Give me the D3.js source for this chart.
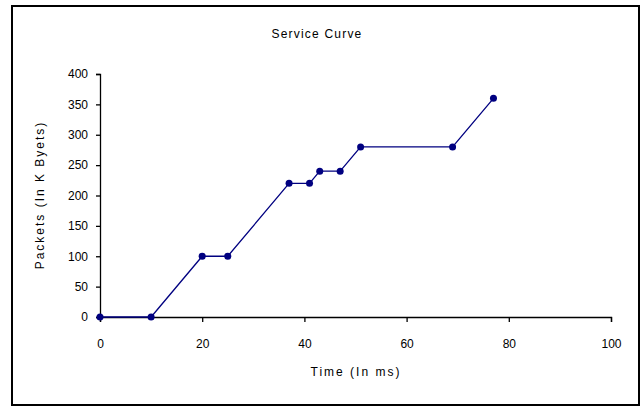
<!DOCTYPE html>
<html>
<head>
<meta charset="utf-8">
<script src="https://cdn.jsdelivr.net/npm/d3@7"></script>
<style>
  html, body { margin: 0; padding: 0; background: #fff; }
  svg { display: block; }
  text { font-family: "Liberation Sans", Arial, sans-serif; fill: #000; }
</style>
</head>
<body>
<svg id="chart" width="641" height="408"></svg>
<script>
const title = "Service Curve";
const xLabel = "Time (In ms)";
const yLabel = "Packets (In K Byets)";
const timeValues = [0, 10, 20, 25, 37, 41, 43, 47, 51, 69, 77];
const packetValues = [0, 0, 100, 100, 220, 220, 240, 240, 280, 280, 360];
const xTicks = [0, 20, 40, 60, 80, 100];
const yTicks = [0, 50, 100, 150, 200, 250, 300, 350, 400];

const svg = d3.select("#chart");
const plot = { left: 100, right: 611, top: 74, bottom: 317 };

// outer frame
svg.append("rect")
  .attr("x", 12).attr("y", 6).attr("width", 627).attr("height", 399)
  .attr("fill", "#fff").attr("stroke", "#000").attr("stroke-width", 2);

const x = d3.scaleLinear().domain([0, 100]).range([plot.left, plot.right]);
const y = d3.scaleLinear().domain([0, 400]).range([plot.bottom, plot.top]);

// title
svg.append("text")
  .attr("x", 317).attr("y", 38)
  .attr("text-anchor", "middle")
  .attr("font-size", 12)
  .attr("letter-spacing", 1.2)
  .text(title);

// axes
const xAxis = d3.axisBottom(x).tickValues(xTicks).tickSize(5).tickSizeOuter(5).tickPadding(17);
const gx = svg.append("g").attr("transform", `translate(0,${plot.bottom})`).call(xAxis);
gx.selectAll("text").attr("font-size", 12).attr("font-family", "Liberation Sans, Arial, sans-serif");

const yAxis = d3.axisLeft(y).tickValues(yTicks).tickSize(4).tickSizeOuter(4).tickPadding(8);
const gy = svg.append("g").attr("transform", `translate(${plot.left},0)`).call(yAxis);
gy.selectAll("text").attr("font-size", 12).attr("font-family", "Liberation Sans, Arial, sans-serif");

svg.selectAll(".domain, .tick line").attr("stroke", "#000").attr("stroke-width", 1.3);

// axis labels
svg.append("text")
  .attr("x", 356).attr("y", 376)
  .attr("text-anchor", "middle")
  .attr("font-size", 12)
  .attr("letter-spacing", 2)
  .text(xLabel);

svg.append("text")
  .attr("transform", `translate(44,195) rotate(-90)`)
  .attr("text-anchor", "middle")
  .attr("font-size", 12)
  .attr("letter-spacing", 2)
  .text(yLabel);

// series
const data = timeValues.map((t, i) => ({ t, v: packetValues[i] }));
const line = d3.line().x(d => x(d.t)).y(d => y(d.v));
svg.append("path")
  .datum(data)
  .attr("d", line)
  .attr("fill", "none")
  .attr("stroke", "#000080")
  .attr("stroke-width", 1.3);

svg.selectAll("circle.pt")
  .data(data)
  .enter().append("circle")
  .attr("class", "pt")
  .attr("cx", d => x(d.t))
  .attr("cy", d => y(d.v))
  .attr("r", 3.5)
  .attr("fill", "#000080");
</script>
</body>
</html>
